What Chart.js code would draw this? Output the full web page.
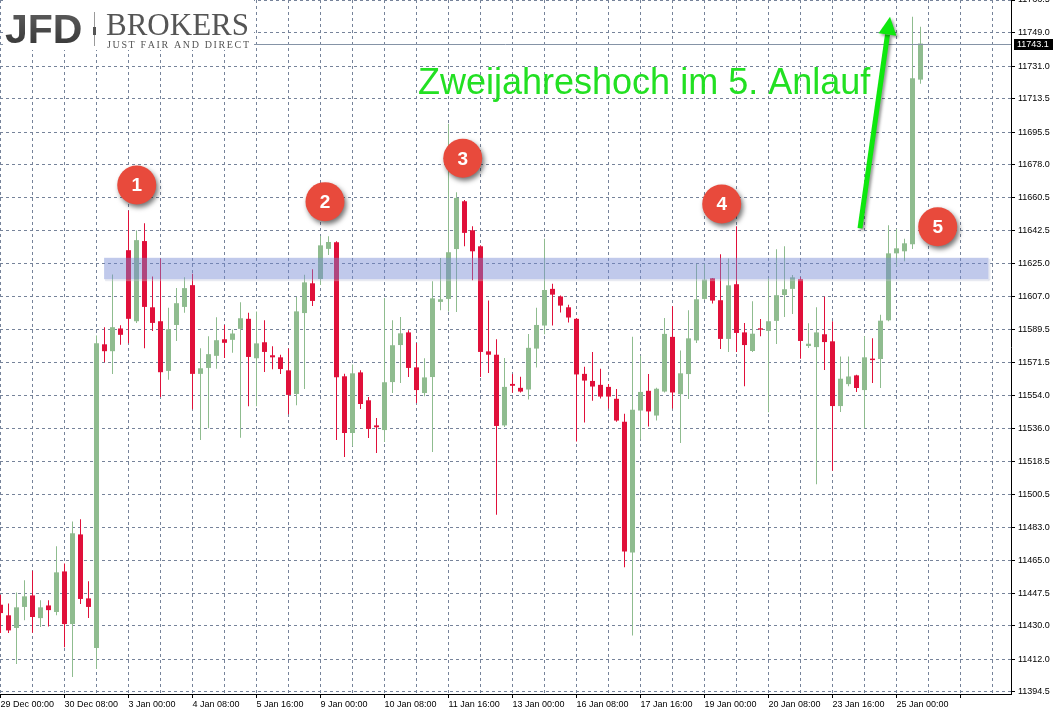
<!DOCTYPE html>
<html>
<head>
<meta charset="utf-8">
<script src="https://cdn.jsdelivr.net/npm/chart.js@4.4.1/dist/chart.umd.min.js"></script>
<style>
  html, body { margin: 0; padding: 0; background: #fff; }
</style>
</head>
<body>
<canvas id="myChart" width="1053" height="711"></canvas>
<script>
// DAX H4 candles, 29 Dec 00:00 - 25 Jan
var opens = [
	11441.4, 11435.7, 11428.9, 11440.2, 11446.4, 11434.2, 11441.0, 11437.5, 11459.3, 11431.0,
	11479.2, 11444.8, 11418.1, 11581.4, 11577.7, 11589.9, 11632.0, 11593.8, 11636.9, 11601.3,
	11593.8, 11567.1, 11591.8, 11601.5, 11613.2, 11565.5, 11568.7, 11575.2, 11584.1, 11583.8,
	11589.7, 11595.1, 11573.9, 11582.5, 11575.5, 11574.4, 11567.4, 11554.7, 11598.2, 11614.2,
	11616.5, 11632.7, 11636.2, 11564.2, 11533.7, 11566.3, 11551.3, 11537.8, 11535.3, 11561.1,
	11581.0, 11587.8, 11569.0, 11555.2, 11563.8, 11604.2, 11605.8, 11632.6, 11658.3, 11642.7,
	11634.1, 11577.6, 11575.8, 11537.8, 11560.1, 11558.0, 11557.1, 11579.1, 11591.5, 11611.2,
	11607.1, 11601.3, 11595.1, 11565.5, 11561.7, 11559.6, 11558.5, 11552.1, 11539.7, 11469.5,
	11545.8, 11556.4, 11543.1, 11556.0, 11585.4, 11554.6, 11565.4, 11583.5, 11605.8, 11616.9,
	11605.1, 11584.3, 11613.7, 11587.8, 11577.8, 11590.0, 11588.6, 11594.0, 11607.9, 11611.2,
	11616.4, 11580.5, 11579.9, 11586.8, 11583.0, 11548.2, 11560.0, 11564.7, 11556.8, 11573.7,
	11573.5, 11594.3, 11630.3, 11631.4, 11635.2, 11723.7
];
var highs = [
	11446.8, 11442.0, 11448.0, 11454.5, 11459.7, 11443.8, 11443.8, 11472.8, 11463.6, 11486.2,
	11487.3, 11454.0, 11586.1, 11590.6, 11618.9, 11591.7, 11653.3, 11642.6, 11646.5, 11617.8,
	11627.5, 11601.0, 11611.7, 11617.5, 11619.3, 11579.3, 11585.7, 11596.0, 11591.8, 11589.3,
	11604.0, 11598.3, 11599.1, 11594.3, 11580.3, 11575.8, 11579.1, 11606.8, 11618.8, 11621.7,
	11639.6, 11639.5, 11636.8, 11565.6, 11570.6, 11567.4, 11553.1, 11541.8, 11606.3, 11594.3,
	11596.1, 11588.9, 11582.1, 11573.9, 11615.3, 11627.8, 11700.0, 11663.1, 11659.0, 11644.8,
	11634.6, 11605.0, 11584.1, 11574.1, 11565.5, 11563.9, 11587.0, 11601.0, 11638.2, 11613.9,
	11607.6, 11602.6, 11595.5, 11569.3, 11577.3, 11568.2, 11560.1, 11557.4, 11544.0, 11585.4,
	11575.2, 11565.5, 11558.0, 11595.6, 11601.9, 11578.1, 11599.7, 11624.6, 11624.6, 11617.1,
	11629.8, 11627.5, 11644.9, 11592.9, 11604.5, 11595.0, 11617.1, 11632.5, 11634.1, 11618.7,
	11617.6, 11592.7, 11601.3, 11607.0, 11593.8, 11574.9, 11574.9, 11565.0, 11585.7, 11584.6,
	11597.3, 11645.4, 11643.4, 11638.2, 11757.5, 11752.1
];
var lows = [
	11426.2, 11426.2, 11409.5, 11433.0, 11426.3, 11429.4, 11429.7, 11435.7, 11418.6, 11402.5,
	11441.8, 11434.2, 11406.8, 11571.8, 11565.5, 11581.1, 11582.0, 11592.9, 11579.3, 11588.6,
	11553.1, 11562.3, 11583.2, 11598.3, 11546.5, 11530.0, 11536.3, 11568.2, 11574.1, 11576.8,
	11531.1, 11548.1, 11548.1, 11566.5, 11568.0, 11565.4, 11543.8, 11548.6, 11557.4, 11602.0,
	11613.3, 11629.4, 11530.0, 11520.8, 11526.6, 11546.6, 11531.0, 11523.0, 11528.9, 11555.2,
	11560.6, 11563.8, 11549.9, 11553.5, 11523.5, 11599.7, 11599.1, 11598.8, 11634.1, 11615.8,
	11563.8, 11566.0, 11489.8, 11537.0, 11555.3, 11555.5, 11551.7, 11568.9, 11586.8, 11591.5,
	11598.5, 11593.1, 11529.2, 11539.4, 11551.0, 11552.3, 11546.9, 11539.8, 11461.5, 11424.9,
	11530.2, 11537.2, 11540.4, 11555.5, 11546.9, 11528.3, 11552.0, 11582.1, 11605.3, 11603.4,
	11578.9, 11577.2, 11577.2, 11558.9, 11577.3, 11585.7, 11544.9, 11581.6, 11596.1, 11597.7,
	11573.7, 11579.4, 11506.2, 11567.6, 11513.4, 11545.0, 11558.9, 11555.7, 11536.3, 11560.6,
	11557.9, 11593.8, 11623.2, 11626.0, 11632.7, 11721.5
];
var closes = [
	11436.9, 11427.6, 11440.0, 11445.9, 11434.8, 11440.0, 11438.5, 11458.8, 11431.0, 11479.8,
	11444.5, 11440.2, 11582.0, 11577.7, 11590.6, 11586.5, 11595.1, 11637.4, 11601.5, 11592.9,
	11566.4, 11589.5, 11603.5, 11611.6, 11565.5, 11568.5, 11576.1, 11583.6, 11582.2, 11587.2,
	11595.4, 11574.6, 11581.9, 11577.3, 11574.4, 11568.1, 11554.2, 11599.1, 11614.7, 11604.7,
	11634.6, 11636.4, 11563.7, 11533.7, 11565.8, 11549.3, 11535.9, 11536.8, 11561.0, 11580.9,
	11587.3, 11568.7, 11556.8, 11563.6, 11606.1, 11605.6, 11630.9, 11660.1, 11641.3, 11631.4,
	11577.3, 11575.8, 11537.5, 11558.5, 11559.1, 11556.0, 11579.5, 11591.8, 11610.6, 11608.1,
	11602.2, 11595.8, 11565.2, 11561.9, 11558.7, 11553.3, 11553.3, 11540.4, 11470.0, 11546.2,
	11555.8, 11545.3, 11557.5, 11587.0, 11555.5, 11565.8, 11584.6, 11605.6, 11616.2, 11604.9,
	11584.3, 11613.1, 11587.5, 11581.0, 11587.1, 11589.3, 11593.8, 11607.8, 11611.0, 11617.4,
	11583.2, 11581.7, 11587.8, 11582.6, 11548.2, 11562.9, 11564.1, 11557.9, 11574.4, 11572.9,
	11594.1, 11630.3, 11633.0, 11635.7, 11724.4, 11743.1
];

// one label every 8 candles
var xLabels = ["29 Dec 00:00", "30 Dec 08:00", "3 Jan 00:00", "4 Jan 08:00", "5 Jan 16:00",
	"9 Jan 00:00", "10 Jan 08:00", "11 Jan 16:00", "13 Jan 00:00", "16 Jan 08:00",
	"17 Jan 16:00", "19 Jan 00:00", "20 Jan 08:00", "23 Jan 16:00", "25 Jan 00:00"];

var yTicks = [11394.5, 11412.0, 11430.0, 11447.5, 11465.0, 11483.0, 11500.5, 11518.5,
	11536.0, 11554.0, 11571.5, 11589.5, 11607.0, 11625.0, 11642.5, 11660.5, 11678.0,
	11695.5, 11713.5, 11731.0, 11749.0, 11766.5];

// annotations (candle index / price)
var zone = { from: 12.95, to: 123.5, low: 11616.4, high: 11627.9 };
var markers = [
	{ n: "1", x: 17.03, y: 11667.0 },
	{ n: "2", x: 40.56, y: 11658.1 },
	{ n: "3", x: 57.78, y: 11681.4 },
	{ n: "4", x: 90.15, y: 11656.8 },
	{ n: "5", x: 117.15, y: 11644.6 }
];
var arrow = { x1: 107.44, y1: 11643.8, x2: 111.19, y2: 11757.5 };
var headline = { text: "Zweijahreshoch im 5. Anlauf", x: 52.19, y: 11715.8 };

var green = "#8fbc8f";
var red = "#e0103a";
var gridColor = "#76839a";
var axisFont = { family: "Liberation Sans", size: 9 };

var colors = opens.map(function(o, i) { return closes[i] >= o ? green : red; });
var bodies = opens.map(function(o, i) { return { x: i, y: [o, closes[i]] }; });
var wicks = lows.map(function(l, i) { return { x: i, y: [l, highs[i]] }; });
var lastPrice = closes[closes.length - 1];

var overlay = {
	id: "overlay",
	beforeDraw: function(chart) {
		var c = chart.ctx;
		c.save();
		c.fillStyle = "#fff";
		c.fillRect(0, 0, chart.width, chart.height);
		c.restore();
	},
	afterDatasetsDraw: function(chart) {
		var c = chart.ctx, xs = chart.scales.x, ys = chart.scales.y, a = chart.chartArea;

		// current price line
		var py = Math.round(ys.getPixelForValue(lastPrice)) + 0.5;
		c.save();
		c.strokeStyle = "#8593a6";
		c.lineWidth = 1;
		c.beginPath();
		c.moveTo(a.left, py);
		c.lineTo(a.right, py);
		c.stroke();

		// resistance zone
		var zx1 = xs.getPixelForValue(zone.from), zx2 = xs.getPixelForValue(zone.to);
		var zy1 = ys.getPixelForValue(zone.high), zy2 = ys.getPixelForValue(zone.low);
		c.fillStyle = "rgba(190,195,215,0.35)";
		c.fillRect(zx1 + 1, zy2, zx2 - zx1, 2);
		c.fillRect(zx2, zy1 + 1, 2, zy2 - zy1);
		c.fillStyle = "rgba(115,135,210,0.45)";
		c.fillRect(zx1, zy1, zx2 - zx1, zy2 - zy1);

		// headline
		c.font = "36px 'Liberation Sans'";
		c.fillStyle = "#22e022";
		c.textBaseline = "alphabetic";
		c.textAlign = "left";
		c.fillText(headline.text, xs.getPixelForValue(headline.x), ys.getPixelForValue(headline.y));

		// arrow
		var ax1 = xs.getPixelForValue(arrow.x1), ay1 = ys.getPixelForValue(arrow.y1);
		var ax2 = xs.getPixelForValue(arrow.x2), ay2 = ys.getPixelForValue(arrow.y2);
		var ang = Math.atan2(ay2 - ay1, ax2 - ax1);
		var hl = 18, hw = 9;
		var bx = ax2 - hl * Math.cos(ang), by = ay2 - hl * Math.sin(ang);
		c.shadowColor = "rgba(0,0,0,0.4)";
		c.shadowBlur = 3;
		c.shadowOffsetX = 2;
		c.shadowOffsetY = 2;
		c.strokeStyle = "#0ee80e";
		c.fillStyle = "#0ee80e";
		c.lineWidth = 5;
		c.beginPath();
		c.moveTo(ax1, ay1);
		c.lineTo(bx, by);
		c.stroke();
		c.beginPath();
		c.moveTo(ax2, ay2);
		c.lineTo(bx + hw * Math.sin(ang), by - hw * Math.cos(ang));
		c.lineTo(bx - hw * Math.sin(ang), by + hw * Math.cos(ang));
		c.closePath();
		c.fill();

		// numbered markers
		markers.forEach(function(m) {
			var mx = xs.getPixelForValue(m.x), my = ys.getPixelForValue(m.y);
			c.shadowColor = "rgba(0,0,0,0.55)";
			c.shadowBlur = 5;
			c.shadowOffsetX = 2;
			c.shadowOffsetY = 3;
			c.fillStyle = "#e84a3c";
			c.beginPath();
			c.arc(mx, my, 19.5, 0, Math.PI * 2);
			c.fill();
			c.shadowColor = "transparent";
			c.fillStyle = "#fff";
			c.font = "bold 19px 'Liberation Sans'";
			c.textAlign = "center";
			c.textBaseline = "middle";
			c.fillText(m.n, mx, my + 1);
		});
		c.restore();
	},
	afterDraw: function(chart) {
		var c = chart.ctx, ys = chart.scales.y, a = chart.chartArea;
		c.save();

		// price tag on the axis
		var py = Math.round(ys.getPixelForValue(lastPrice));
		c.fillStyle = "#000";
		c.fillRect(a.right + 3, py - 5, chart.width - a.right - 3, 11);
		c.fillStyle = "#fff";
		c.font = "9px 'Liberation Sans'";
		c.textBaseline = "middle";
		c.textAlign = "left";
		c.fillText(lastPrice.toFixed(1), a.right + 6, py + 1);

		// logo
		c.fillStyle = "#fff";
		c.fillRect(3, 0, 251, 50);
		var g = c.createLinearGradient(0, 13, 0, 44);
		g.addColorStop(0, "#5a5a5a");
		g.addColorStop(1, "#3a3a3a");
		c.fillStyle = g;
		c.font = "bold 41px 'Liberation Sans'";
		c.textBaseline = "alphabetic";
		c.fillText("JFD", 5, 43);
		c.fillStyle = "#9a9a9a";
		c.fillRect(94, 12, 1, 34);
		c.fillStyle = "#555";
		c.fillRect(93, 27, 3, 8);
		c.fillStyle = "#555";
		c.font = "31px 'Liberation Serif'";
		c.fillText("BROKERS", 106, 35);
		var tag = "JUST FAIR AND DIRECT";
		c.font = "10px 'Liberation Serif'";
		var w = 0;
		for (var i = 0; i < tag.length; i++) w += c.measureText(tag[i]).width;
		var sp = (142 - w) / (tag.length - 1), tx = 107;
		for (var j = 0; j < tag.length; j++) {
			c.fillText(tag[j], tx, 48);
			tx += c.measureText(tag[j]).width + sp;
		}
		c.restore();
	}
};

var ctx = document.getElementById("myChart");

var myChart = new Chart(ctx, {
	type: "bar",
	data: {
		datasets: [
			{
				data: bodies,
				backgroundColor: colors,
				barThickness: 5,
				minBarLength: 1,
				grouped: false,
				borderWidth: 0,
				inflateAmount: 0,
				order: 0
			},
			{
				data: wicks,
				backgroundColor: colors,
				barThickness: 1,
				grouped: false,
				borderWidth: 0,
				inflateAmount: 0,
				order: 1
			}
		]
	},
	options: {
		responsive: false,
		animation: false,
		events: [],
		layout: { padding: 0 },
		plugins: {
			legend: { display: false },
			tooltip: { enabled: false }
		},
		scales: {
			x: {
				type: "linear",
				bounds: "data",
				offset: false,
				min: -0.0625,
				max: 126.3125,
				afterBuildTicks: function(s) {
					var t = [];
					for (var v = 0; v <= 124; v += 4) t.push({ value: v });
					s.ticks = t;
				},
				afterFit: function(s) {
					s.height = 17;
					s.paddingLeft = 0;
					s.paddingRight = 0;
				},
				grid: {
					offset: false,
					color: gridColor,
					tickLength: 4,
					tickColor: function(c) {
						return c.tick && c.tick.value % 8 === 0 ? "#000" : "rgba(0,0,0,0)";
					}
				},
				border: { display: true, color: "#000", width: 1, dash: [3, 3] },
				ticks: {
					autoSkip: false,
					maxRotation: 0,
					minRotation: 0,
					align: "start",
					padding: 1,
					color: "#000",
					font: axisFont,
					callback: function(v) {
						return v % 8 === 0 ? (xLabels[v / 8] || "") : "";
					}
				}
			},
			y: {
				position: "right",
				bounds: "data",
				min: 11393.4,
				max: 11766.5,
				afterBuildTicks: function(s) {
					s.ticks = yTicks.map(function(v) { return { value: v }; });
				},
				afterFit: function(s) {
					s.width = 42;
					s.paddingTop = 0;
					s.paddingBottom = 0;
				},
				grid: { color: gridColor, tickLength: 4, tickColor: "#000" },
				border: { display: true, color: "#000", width: 1, dash: [3, 3] },
				ticks: {
					padding: 3,
					color: "#000",
					font: axisFont,
					callback: function(v) { return v.toFixed(1); }
				}
			}
		}
	},
	plugins: [overlay]
});
</script>
</body>
</html>
